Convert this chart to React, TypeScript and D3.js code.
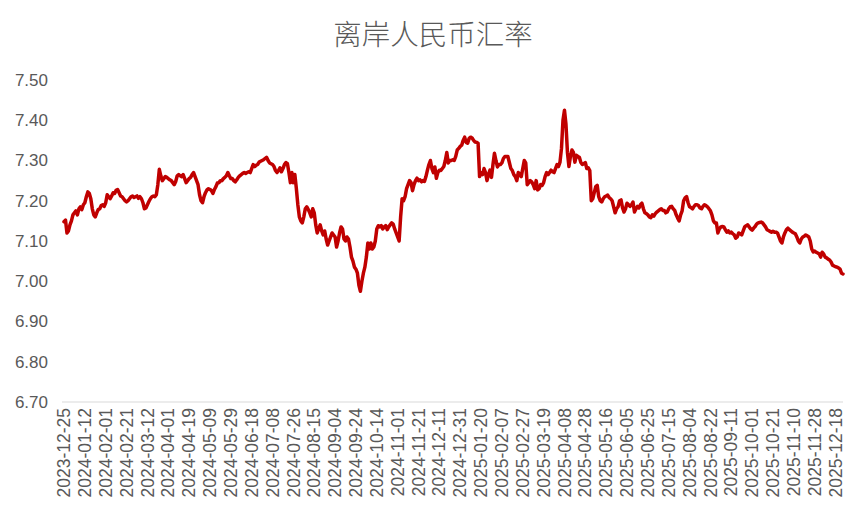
import React from "react";
import * as d3 from "d3";

const title = "离岸人民币汇率";

const yTicks = [6.7, 6.8, 6.9, 7.0, 7.1, 7.2, 7.3, 7.4, 7.5];

const tickLabels = [
  "2023-12-25", "2024-01-12", "2024-02-01", "2024-02-21", "2024-03-12", "2024-04-01",
  "2024-04-19", "2024-05-09", "2024-05-29", "2024-06-18", "2024-07-08", "2024-07-26",
  "2024-08-15", "2024-09-04", "2024-09-24", "2024-10-14", "2024-11-01", "2024-11-21",
  "2024-12-11", "2024-12-31", "2025-01-20", "2025-02-07", "2025-02-27", "2025-03-19",
  "2025-04-08", "2025-04-28", "2025-05-16", "2025-06-05", "2025-06-25", "2025-07-15",
  "2025-08-04", "2025-08-22", "2025-09-11", "2025-10-01", "2025-10-21", "2025-11-10",
  "2025-11-28", "2025-12-18",
];
const tickEvery = 14;

// daily offshore CNY rate (weekdays)
const rate = [
  7.148, 7.152, 7.12, 7.125, 7.14, 7.15, 7.165, 7.17, 7.175, 7.165,
  7.18, 7.185, 7.178, 7.19, 7.195, 7.21, 7.222, 7.218, 7.205, 7.18,
  7.165, 7.16, 7.17, 7.178, 7.18, 7.188, 7.19, 7.186, 7.195, 7.215,
  7.21, 7.205, 7.212, 7.22, 7.218, 7.226, 7.228, 7.22, 7.212, 7.21,
  7.205, 7.2, 7.197, 7.2, 7.205, 7.21, 7.212, 7.208, 7.21, 7.212,
  7.206, 7.21, 7.205, 7.195, 7.18, 7.182, 7.19, 7.198, 7.205, 7.21,
  7.212, 7.21, 7.215, 7.24, 7.278, 7.262, 7.25, 7.255, 7.26, 7.258,
  7.255, 7.252, 7.25, 7.245, 7.24, 7.248, 7.262, 7.265, 7.262, 7.26,
  7.265, 7.255, 7.245, 7.25, 7.255, 7.258, 7.265, 7.27, 7.26, 7.25,
  7.24, 7.215, 7.2, 7.195, 7.21, 7.22, 7.227, 7.23, 7.228, 7.225,
  7.218, 7.228, 7.235, 7.244, 7.245, 7.25, 7.25, 7.255, 7.258, 7.262,
  7.27, 7.262, 7.255, 7.255, 7.25, 7.247, 7.252, 7.258, 7.262, 7.265,
  7.268, 7.27, 7.268, 7.27, 7.272, 7.27, 7.28, 7.29, 7.285, 7.288,
  7.29, 7.296, 7.298, 7.3, 7.302, 7.305, 7.308, 7.3, 7.294, 7.292,
  7.29, 7.285, 7.275, 7.27, 7.275, 7.282, 7.272, 7.28, 7.29, 7.295,
  7.292, 7.27, 7.245, 7.27, 7.245, 7.265, 7.23, 7.19, 7.16, 7.15,
  7.145, 7.16, 7.18, 7.185, 7.178, 7.17, 7.16, 7.18, 7.17, 7.14,
  7.12, 7.13, 7.14, 7.125, 7.115, 7.125, 7.105, 7.09, 7.1, 7.11,
  7.12, 7.115, 7.11, 7.085, 7.1, 7.12, 7.135, 7.13, 7.105, 7.1,
  7.11, 7.105, 7.085, 7.06, 7.05, 7.035, 7.03, 7.02, 6.99, 6.975,
  7.0, 7.02, 7.035, 7.06, 7.095, 7.08, 7.095, 7.08, 7.085, 7.1,
  7.13, 7.138, 7.135, 7.138, 7.13, 7.135, 7.138, 7.128, 7.135, 7.14,
  7.145, 7.142, 7.13, 7.12, 7.11, 7.1, 7.16, 7.205, 7.2, 7.21,
  7.23, 7.24, 7.25, 7.245, 7.225, 7.24, 7.25, 7.256, 7.25, 7.252,
  7.247, 7.25, 7.248, 7.26, 7.276, 7.29, 7.3, 7.28, 7.27, 7.284,
  7.256, 7.27, 7.276, 7.275, 7.28, 7.285, 7.3, 7.32, 7.294, 7.3,
  7.3, 7.302, 7.3, 7.31, 7.326, 7.33, 7.335, 7.338, 7.35, 7.358,
  7.345, 7.343, 7.355, 7.358, 7.356, 7.35, 7.346, 7.345, 7.343, 7.26,
  7.27, 7.265, 7.28, 7.27, 7.25, 7.265, 7.276, 7.258, 7.29, 7.318,
  7.3, 7.284, 7.29, 7.29, 7.294, 7.305, 7.31, 7.31, 7.31, 7.295,
  7.28, 7.275, 7.265, 7.26, 7.25, 7.27, 7.265, 7.26, 7.28, 7.3,
  7.294, 7.24, 7.245, 7.25, 7.247, 7.24, 7.23, 7.25, 7.227, 7.23,
  7.24, 7.238, 7.245, 7.26, 7.27, 7.265, 7.27, 7.276, 7.272, 7.27,
  7.28, 7.29, 7.285, 7.296, 7.33, 7.4, 7.425, 7.39, 7.32, 7.285,
  7.31, 7.326, 7.32, 7.296, 7.313, 7.31, 7.308, 7.295, 7.29, 7.292,
  7.295, 7.28, 7.282, 7.275, 7.2, 7.205, 7.22, 7.235, 7.238, 7.21,
  7.2, 7.197, 7.205, 7.21, 7.212, 7.214, 7.208, 7.205, 7.2, 7.185,
  7.17, 7.18, 7.185, 7.2, 7.202, 7.182, 7.172, 7.18, 7.194, 7.19,
  7.186, 7.19, 7.197, 7.172, 7.18, 7.186, 7.182, 7.19, 7.194, 7.18,
  7.17, 7.168, 7.165, 7.16, 7.158, 7.165, 7.162, 7.168, 7.172, 7.175,
  7.178, 7.18, 7.176, 7.176, 7.17, 7.172, 7.18, 7.185, 7.186, 7.18,
  7.176, 7.165, 7.157, 7.15, 7.165, 7.175, 7.2, 7.207, 7.21, 7.195,
  7.185, 7.183, 7.18, 7.186, 7.19, 7.19, 7.188, 7.182, 7.18, 7.186,
  7.19, 7.188, 7.185, 7.18, 7.175, 7.165, 7.15, 7.145, 7.145, 7.12,
  7.13, 7.135, 7.136, 7.135, 7.128, 7.122, 7.125, 7.12, 7.122, 7.118,
  7.115, 7.107, 7.11, 7.12, 7.118, 7.115, 7.125, 7.135, 7.138, 7.14,
  7.135, 7.13, 7.127, 7.132, 7.136, 7.142, 7.145, 7.146, 7.147, 7.145,
  7.14, 7.135, 7.128, 7.126, 7.124, 7.122, 7.124, 7.122, 7.122, 7.12,
  7.11, 7.1, 7.095, 7.11, 7.12, 7.128, 7.132, 7.128, 7.125, 7.122,
  7.12, 7.118, 7.11, 7.1, 7.095, 7.105, 7.11, 7.112, 7.115, 7.113,
  7.11, 7.1, 7.08, 7.073, 7.075, 7.072, 7.07, 7.068, 7.06, 7.072,
  7.068, 7.06, 7.058, 7.055, 7.053, 7.048, 7.04, 7.038, 7.036, 7.035,
  7.033, 7.03, 7.02, 7.018,
];

const W = 866;
const H = 524;
const M = { left: 64, right: 843, top: 80, bottom: 402 };
const TEXT = "#595959";
const FONT = "'Liberation Sans', Arial, sans-serif";

export default function App() {
  const idx = rate.map((_, i) => i);
  const x = d3.scalePoint<number>().domain(idx).range([M.left, M.right]);
  const y = d3.scaleLinear().domain([6.7, 7.5]).range([M.bottom, M.top]);
  const line = d3
    .line<number>()
    .x((_, i) => x(i) as number)
    .y((d) => y(d));

  return (
    <svg
      width={W}
      height={H}
      style={{ position: "absolute", left: 0, top: 0, background: "#fff" }}
    >
      <text
        x={433}
        y={45}
        textAnchor="middle"
        fontSize={28.5}
        fill={TEXT}
        fontFamily="'Noto Sans CJK SC', sans-serif"
        fontWeight={300}
      >
        {title}
      </text>
      {yTicks.map((t) => (
        <text
          key={t}
          x={48}
          y={y(t)}
          dy="0.35em"
          textAnchor="end"
          fontSize={17}
          fill={TEXT}
          fontFamily={FONT}
        >
          {t.toFixed(2)}
        </text>
      ))}
      <line
        x1={M.left - 2}
        x2={M.right}
        y1={y(6.7)}
        y2={y(6.7)}
        stroke="#d9d9d9"
        strokeWidth={1}
      />
      {tickLabels.map((lab, k) => {
        const px = x(k * tickEvery) as number;
        return (
          <text
            key={lab}
            transform={`translate(${px},${M.bottom + 6}) rotate(-90)`}
            dy="0.35em"
            textAnchor="end"
            fontSize={17.5}
            fill={TEXT}
            fontFamily={FONT}
          >
            {lab}
          </text>
        );
      })}
      <path
        d={line(rate) || ""}
        fill="none"
        stroke="#C00000"
        strokeWidth={3.5}
        strokeLinejoin="round"
        strokeLinecap="round"
      />
    </svg>
  );
}
